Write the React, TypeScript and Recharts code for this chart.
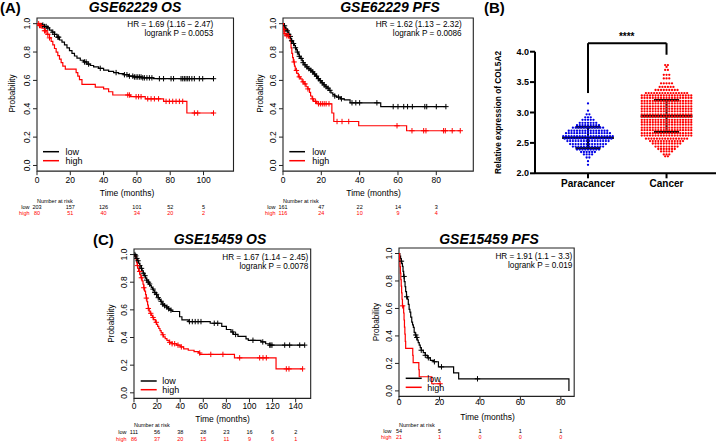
import React from 'react';
import {
  ComposedChart,
  ScatterChart,
  Line,
  Scatter,
  XAxis,
  YAxis,
  ReferenceArea,
  ReferenceLine,
} from 'recharts';

type Pt = [number, number];

const FONT = '"Liberation Sans", Arial, Helvetica, sans-serif';
const KM_BLACK = '#000000';
const KM_RED = '#ff0000';
const DOT_BLUE = '#0000e6';
const DOT_RED = '#ff0000';

// ---------------- Panel A: GSE62229 OS ----------------
const a1Low: Pt[] = [[0,1],[3,0.99],[4.5,0.98],[6,0.97],[7.5,0.955],[9,0.94],[10.5,0.925],[12,0.905],[13.5,0.885],[15,0.87],[16.5,0.85],[18,0.83],[19.5,0.81],[21,0.79],[22.5,0.772],[24,0.757],[26,0.742],[28,0.73],[30,0.715],[32,0.705],[34,0.695],[37,0.685],[40,0.672],[43,0.664],[46,0.655],[49,0.648],[52,0.64],[55,0.63],[58,0.624],[63,0.618],[70,0.612],[106,0.612]];
const a1LowCens = [3.5,4.5,5.5,6.5,9.5,10.5,12.5,13,28.5,29.5,31,38,47.5,52.5,54,55.5,57.5,58.5,59.5,60.5,61.5,62.5,63.5,64.5,66,67.5,69,73.5,76,80.5,82,86.5,87.5,88.5,89.5,90.5,91.5,93,94.5,97.5,99.5,106];
const a1High: Pt[] = [[0,1],[1.5,0.987],[3,0.968],[4.5,0.95],[6,0.925],[7.5,0.9],[8.5,0.875],[9.5,0.85],[10.5,0.825],[11.5,0.8],[12.5,0.775],[13.5,0.75],[14.5,0.725],[15.5,0.7],[17,0.68],[23.5,0.655],[24.5,0.63],[25.5,0.605],[27,0.572],[35,0.553],[40,0.54],[43,0.52],[45.5,0.497],[56,0.485],[65,0.47],[76,0.452],[90,0.37],[106,0.37]];
const a1HighCens = [1,1.5,2,2.5,4.5,5,6.5,7.5,54.5,55.5,59.5,61,62.5,66.5,68.5,70.5,73,77.5,79.5,81.5,83.5,85.5,87.5,94.5,96.5,106];
const a1Ticks = [0,20,40,60,80,100];
const a1RiskLow = [203,157,126,101,52,5];
const a1RiskHigh = [80,51,40,34,20,2];

// ---------------- Panel A: GSE62229 PFS ----------------
const a2Low: Pt[] = [[0,1],[0.5,0.985],[1,0.97],[1.5,0.96],[2,0.95],[2.5,0.94],[3,0.925],[3.5,0.91],[4,0.895],[4.5,0.88],[5,0.87],[5.5,0.86],[6,0.845],[6.5,0.83],[7,0.815],[7.5,0.8],[8,0.785],[8.5,0.77],[9,0.755],[10,0.74],[10.5,0.725],[11,0.71],[12,0.695],[13,0.683],[14,0.672],[15,0.66],[16,0.645],[17,0.63],[18,0.612],[19,0.598],[20,0.583],[21,0.568],[22,0.555],[23,0.545],[24,0.53],[25,0.512],[26,0.5],[27,0.49],[28,0.482],[30,0.47],[32,0.462],[35,0.442],[51,0.415],[85,0.415]];
const a2LowCens = [0.8,1.5,2.2,3,3.8,4.5,5.5,6.5,7.5,8.5,9.5,10.5,11.5,12.5,13.5,14.5,15.5,16.5,17.5,18.5,19.5,20.5,21.5,22.5,23.5,24.5,27,29,30.5,36,38,40,49,57.5,60,63,65,67.5,74,75,80,85];
const a2High: Pt[] = [[0,1],[0.3,0.96],[0.6,0.93],[1.5,0.915],[3,0.9],[3.8,0.875],[4.2,0.83],[4.6,0.79],[5,0.76],[5.4,0.73],[6,0.7],[6.4,0.67],[7.2,0.65],[8,0.625],[9,0.61],[10,0.59],[11,0.575],[12,0.555],[13,0.54],[13.8,0.515],[14.4,0.49],[15.2,0.47],[16,0.452],[17.5,0.44],[18.5,0.435],[25.5,0.37],[26.5,0.31],[39.5,0.28],[64.5,0.245],[92.5,0.245]];
const a2HighCens = [0.5,1,2,2.8,5.8,7,8.5,10.5,11.5,13,15.5,17,18.5,19.5,20.5,21.5,22.5,24,28.2,30.8,34.3,59.5,67.3,73.4,74.6,83.8,84.7,88.3,92.5];
const a2Ticks = [0,20,40,60,80];
const a2RiskLow = [161,47,22,14,3];
const a2RiskHigh = [116,24,10,9,4];

// ---------------- Panel C: GSE15459 OS ----------------
const c1Low: Pt[] = [[0,1],[1,0.99],[2,0.972],[3,0.955],[4,0.937],[5,0.92],[6,0.9],[7,0.882],[8,0.865],[9,0.847],[10,0.83],[11,0.815],[12,0.8],[13,0.787],[14,0.775],[15,0.762],[16,0.75],[17,0.738],[18,0.725],[19,0.712],[20,0.7],[21,0.688],[22,0.675],[23,0.662],[24,0.65],[25,0.64],[26,0.63],[28,0.62],[29.5,0.608],[31,0.598],[33,0.588],[39.5,0.55],[41.5,0.527],[47,0.515],[66,0.503],[76,0.48],[80,0.458],[84,0.44],[86,0.422],[90,0.408],[97,0.39],[99,0.38],[110,0.368],[114,0.355],[117.5,0.345],[148,0.345]];
const c1LowCens = [0.8,1.5,2.5,3.5,5,6.5,8,9.5,11,12.5,13.5,16.5,18,19.5,21,23.5,25,26.5,28.5,30,32,48,50.5,53,55.5,58,69.5,72.5,85.5,88,103,111.5,117.5,118.5,119.5,130.5,134.8,143.5,147.8];
const c1High: Pt[] = [[0,1],[1,0.988],[1.8,0.965],[2.3,0.942],[2.8,0.92],[3.3,0.9],[4,0.878],[5,0.855],[6,0.832],[7,0.81],[7.8,0.785],[8.5,0.76],[9.2,0.735],[10,0.71],[10.6,0.685],[11.2,0.66],[11.8,0.635],[12.4,0.61],[13.2,0.59],[14,0.575],[15,0.56],[16,0.545],[17,0.53],[18.5,0.51],[19.5,0.495],[20.5,0.48],[21.5,0.465],[22.5,0.45],[23.5,0.435],[24.5,0.42],[25.5,0.405],[27,0.392],[28.5,0.38],[30.5,0.365],[33,0.355],[37,0.345],[40,0.332],[43,0.318],[47,0.308],[52,0.298],[56,0.288],[57,0.278],[87,0.253],[123,0.173],[146,0.173]];
const c1HighCens = [3,4.9,6.4,8.5,10.7,12.4,14.5,16.5,19.3,25.1,30.9,33,35.2,38.1,41,56.9,66.5,77,91.5,108.8,111.7,114.6,131.9,134.2,146];
const c1Ticks = [0,20,40,60,80,100,120,140];
const c1RiskLow = [111,56,38,28,23,16,6,2];
const c1RiskHigh = [86,37,20,15,11,9,6,1];

// ---------------- Panel C: GSE15459 PFS ----------------
const c2Low: Pt[] = [[0,1],[0.4,0.981],[0.8,0.963],[1.1,0.944],[1.4,0.926],[1.7,0.907],[2,0.87],[2.3,0.833],[2.6,0.796],[3,0.759],[3.3,0.722],[3.7,0.685],[4.2,0.667],[4.6,0.63],[5,0.593],[5.4,0.574],[5.8,0.537],[6.3,0.5],[6.7,0.481],[7.1,0.463],[7.5,0.426],[8,0.407],[8.4,0.389],[9,0.37],[9.5,0.352],[10,0.333],[10.5,0.315],[11,0.296],[12,0.278],[13,0.259],[14,0.241],[15.5,0.222],[17,0.212],[19.5,0.175],[27,0.131],[29.5,0.088],[84,0]];
const c2LowCens = [1.2,2.5,3.8,8.3,8.8,11,13,14.5,17.5,21,38.8];
const c2High: Pt[] = [[0,1],[0.3,0.952],[0.5,0.905],[0.7,0.857],[0.9,0.81],[1.1,0.762],[1.3,0.714],[1.5,0.667],[1.7,0.619],[2.3,0.567],[2.5,0.516],[2.7,0.464],[2.9,0.413],[3.1,0.361],[3.3,0.31],[6.8,0.258],[7,0.206],[9.8,0.155],[10,0.103],[16.2,0.052],[20.3,0.052]];
const c2HighCens = [1.8,20.3];
const c2Ticks = [0,20,40,60,80];
const c2RiskLow = [54,5,1,1,1];
const c2RiskHigh = [21,1,0,0,0];

const probTicks = [0,0.2,0.4,0.6,0.8,1.0];

// ---------------- Panel B: COL5A2 expression ----------------
const bCategories = ['Paracancer','Cancer'];
const paraLevels = [3.15,3.03,2.97,2.92,2.88,2.83,2.79,2.75,2.70,2.66,2.61,2.57,2.53,2.48,2.44,2.39,2.35,2.31,2.26,2.20,2.14];
const paraCounts = [1,1,2,3,5,7,9,12,15,17,19,18,16,14,12,9,6,4,2,1,1];
const cancerLevels = [3.78,3.75,3.70,3.62,3.56,3.48,3.42,3.37,3.32,3.28,3.24,3.19,3.15,3.10,3.06,3.02,2.97,2.93,2.88,2.84,2.80,2.75,2.71,2.66,2.62,2.57,2.53,2.49,2.44,2.40,2.36,2.31,2.28];
const cancerCounts = [2,1,2,3,3,5,6,9,16,19,19,19,19,19,19,19,19,19,19,19,19,19,19,19,19,16,13,11,9,7,5,3,2];
const bMeans = [2.585,2.94];
const bSDs = [0.173,0.262];
const bTicks = [2.0,2.5,3.0,3.5,4.0];
const bBracket = { top: 4.14, leftFoot: 3.32, rightFoot: 3.95 };

// ---------------- texts ----------------
const titles = ['GSE62229 OS','GSE62229 PFS','GSE15459 OS','GSE15459 PFS'];
const hrLines = [
  ['HR = 1.69 (1.16 \u2212 2.47)','logrank P = 0.0053'],
  ['HR = 1.62 (1.13 \u2212 2.32)','logrank P = 0.0086'],
  ['HR = 1.67 (1.14 \u2212 2.45)','logrank P = 0.0078'],
  ['HR = 1.91 (1.1 \u2212 3.3)','logrank P = 0.019'],
];

// ---------------- helpers ----------------
const survAt = (steps: Pt[], t: number) => {
  let s = 1;
  for (const [ti, si] of steps) if (ti <= t) s = si;
  return s;
};
const toLine = (steps: Pt[]) => steps.map(([t, s]) => ({ t, s }));
const toCens = (steps: Pt[], times: number[]) => times.map((t) => ({ t, s: survAt(steps, t) }));

const plusShape = (color: string) => (props: any) => {
  const { cx, cy } = props;
  if (cx == null || cy == null) return <g />;
  return (
    <path
      d={`M${cx - 2.7},${cy}H${cx + 2.7}M${cx},${cy - 2.7}V${cy + 2.7}`}
      stroke={color}
      strokeWidth={1}
      fill="none"
    />
  );
};

type KMLayout = {
  x0: number; xR: number; y1: number; y0: number; xMax: number;
  tickBase: number; narBase: number; lowBase: number; highBase: number;
};
type KMData = {
  low: Pt[]; lowCens: number[]; high: Pt[]; highCens: number[];
  ticks: number[]; riskLow: number[]; riskHigh: number[];
};

const ML = 40, MT = 6, MR = 6, XH = 52;

function KMChart({ lay, d }: { lay: KMLayout; d: KMData }) {
  const span = lay.y0 - lay.y1;
  const plotTop = lay.y1 - 0.04 * span;
  const plotH = span * 1.08;
  const plotW = lay.xR - lay.x0;
  const top = plotTop - MT;
  const left = lay.x0 - ML;
  const W = ML + plotW + MR;
  const H = MT + plotH + XH;
  const rel = (v: number) => v - top;

  const xTick = (p: any) => {
    const v = p.payload.value;
    const i = d.ticks.indexOf(v);
    const x = p.x;
    return (
      <g fontFamily={FONT}>
        <text x={x} y={rel(lay.tickBase)} textAnchor="middle" fontSize={8.5} fill="#000">{v}</text>
        {i >= 0 && (
          <text x={x} y={rel(lay.lowBase)} textAnchor="middle" fontSize={5.5} fill="#000">{d.riskLow[i]}</text>
        )}
        {i >= 0 && (
          <text x={x} y={rel(lay.highBase)} textAnchor="middle" fontSize={5.5} fill={KM_RED}>{d.riskHigh[i]}</text>
        )}
        {i === 0 && (
          <g>
            <text x={x} y={rel(lay.narBase)} textAnchor="start" fontSize={5.5} fill="#000">Number at risk</text>
            <text x={x - 7.5} y={rel(lay.lowBase)} textAnchor="end" fontSize={5.5} fill="#000">low</text>
            <text x={x - 7.5} y={rel(lay.highBase)} textAnchor="end" fontSize={5.5} fill={KM_RED}>high</text>
          </g>
        )}
      </g>
    );
  };

  const yTick = (p: any) => {
    const bx = ML - 6.6;
    return (
      <text
        x={bx}
        y={p.y}
        transform={`rotate(-90 ${bx} ${p.y})`}
        textAnchor="middle"
        fontSize={8.5}
        fill="#000"
        fontFamily={FONT}
      >
        {Number(p.payload.value).toFixed(1)}
      </text>
    );
  };

  return (
    <div style={{ position: 'absolute', left, top, width: W, height: H }}>
      <ComposedChart width={W} height={H} margin={{ top: MT, right: MR, left: 0, bottom: 0 }}>
        <XAxis
          type="number"
          dataKey="t"
          domain={[0, lay.xMax]}
          allowDataOverflow
          ticks={d.ticks}
          interval={0}
          height={XH}
          tickSize={4}
          tickLine={{ stroke: '#222' }}
          axisLine={false}
          tick={xTick}
        />
        <YAxis
          type="number"
          dataKey="s"
          domain={[-0.04, 1.04]}
          allowDataOverflow
          ticks={probTicks}
          interval={0}
          width={ML}
          tickSize={4}
          tickLine={{ stroke: '#222' }}
          axisLine={false}
          tick={yTick}
        />
        <ReferenceArea x1={0} x2={lay.xMax} y1={-0.04} y2={1.04} fill="none" fillOpacity={0} stroke="#222" strokeWidth={1.1} />
        <Line data={toLine(d.low)} dataKey="s" type="stepAfter" stroke={KM_BLACK} strokeWidth={1.2} dot={false} activeDot={false} isAnimationActive={false} />
        <Line data={toLine(d.high)} dataKey="s" type="stepAfter" stroke={KM_RED} strokeWidth={1.2} dot={false} activeDot={false} isAnimationActive={false} />
        <Scatter data={toCens(d.low, d.lowCens)} dataKey="s" shape={plusShape(KM_BLACK)} isAnimationActive={false} />
        <Scatter data={toCens(d.high, d.highCens)} dataKey="s" shape={plusShape(KM_RED)} isAnimationActive={false} />
      </ComposedChart>
    </div>
  );
}

const layA1: KMLayout = { x0: 36.5, xR: 233, y1: 23.2, y0: 165, xMax: 118, tickBase: 182.5, narBase: 202.7, lowBase: 208.5, highBase: 215 };
const layA2: KMLayout = { x0: 282.7, xR: 473, y1: 23.2, y0: 165, xMax: 99.3, tickBase: 182.5, narBase: 202.7, lowBase: 208.5, highBase: 215 };
const layC1: KMLayout = { x0: 134.3, xR: 311, y1: 255, y0: 393.3, xMax: 153, tickBase: 409, narBase: 427.5, lowBase: 434.5, highBase: 441.5 };
const layC2: KMLayout = { x0: 399.3, xR: 574.5, y1: 253.3, y0: 390.7, xMax: 86.6, tickBase: 404.5, narBase: 426.5, lowBase: 432.7, highBase: 439.3 };

const dA1: KMData = { low: a1Low, lowCens: a1LowCens, high: a1High, highCens: a1HighCens, ticks: a1Ticks, riskLow: a1RiskLow, riskHigh: a1RiskHigh };
const dA2: KMData = { low: a2Low, lowCens: a2LowCens, high: a2High, highCens: a2HighCens, ticks: a2Ticks, riskLow: a2RiskLow, riskHigh: a2RiskHigh };
const dC1: KMData = { low: c1Low, lowCens: c1LowCens, high: c1High, highCens: c1HighCens, ticks: c1Ticks, riskLow: c1RiskLow, riskHigh: c1RiskHigh };
const dC2: KMData = { low: c2Low, lowCens: c2LowCens, high: c2High, highCens: c2HighCens, ticks: c2Ticks, riskLow: c2RiskLow, riskHigh: c2RiskHigh };

// ---------------- Panel B chart ----------------
const B_SPACING = 0.035;
const swarm = (levels: number[], counts: number[], center: number) =>
  levels.flatMap((v, li) =>
    Array.from({ length: counts[li] }, (_, k) => ({ x: center + (k - (counts[li] - 1) / 2) * B_SPACING, y: v }))
  );

const dotShape = (color: string) => (props: any) => {
  const { cx, cy } = props;
  if (cx == null || cy == null) return <g />;
  return <circle cx={cx} cy={cy} r={1.15} fill={color} />;
};

function PanelB() {
  const left = 490, top = 20, W = 230, H = 190;
  const mt = 51.7 - top;
  const yAxisW = 45;
  const plotH = 173.3 - 51.7;
  const xh = H - mt - plotH;
  const paraPts = swarm(paraLevels, paraCounts, 1);
  const cancerPts = swarm(cancerLevels, cancerCounts, 2);
  const segs: any[] = [];
  bMeans.forEach((m, i) => {
    const cx = i + 1;
    const sd = bSDs[i];
    segs.push({ a: { x: cx - 0.33, y: m }, b: { x: cx + 0.33, y: m }, w: 2.6 });
    segs.push({ a: { x: cx - 0.16, y: m + sd }, b: { x: cx + 0.16, y: m + sd }, w: 2.4 });
    segs.push({ a: { x: cx - 0.16, y: m - sd }, b: { x: cx + 0.16, y: m - sd }, w: 2.4 });
    segs.push({ a: { x: cx, y: m - sd }, b: { x: cx, y: m + sd }, w: 2 });
  });
  const brk = [
    { a: { x: 1, y: bBracket.leftFoot }, b: { x: 1, y: bBracket.top } },
    { a: { x: 1, y: bBracket.top }, b: { x: 2, y: bBracket.top } },
    { a: { x: 2, y: bBracket.top }, b: { x: 2, y: bBracket.rightFoot } },
  ];
  return (
    <div style={{ position: 'absolute', left, top, width: W, height: H }}>
      <ScatterChart width={W} height={H} margin={{ top: mt, right: 4, left: 0, bottom: 0 }}>
        <XAxis
          type="number"
          dataKey="x"
          domain={[0.325, 2.63]}
          allowDataOverflow
          ticks={[1, 2]}
          interval={0}
          tickFormatter={(v: number) => bCategories[Math.round(v) - 1] ?? ''}
          height={xh}
          tickSize={5}
          tickMargin={2}
          axisLine={{ stroke: '#000', strokeWidth: 2 }}
          tickLine={{ stroke: '#000', strokeWidth: 2 }}
          tick={{ fontSize: 10, fontWeight: 700, fill: '#000', fontFamily: FONT }}
        />
        <YAxis
          type="number"
          dataKey="y"
          domain={[2, 4]}
          allowDataOverflow
          ticks={bTicks}
          interval={0}
          tickFormatter={(v: number) => v.toFixed(1)}
          width={yAxisW}
          tickSize={5}
          tickMargin={1}
          axisLine={{ stroke: '#000', strokeWidth: 2 }}
          tickLine={{ stroke: '#000', strokeWidth: 2 }}
          tick={{ fontSize: 9, fontWeight: 700, fill: '#000', fontFamily: FONT }}
        />
        <Scatter data={paraPts} shape={dotShape(DOT_BLUE)} isAnimationActive={false} />
        <Scatter data={cancerPts} shape={dotShape(DOT_RED)} isAnimationActive={false} />
        {segs.map((s, i) => (
          <ReferenceLine key={'e' + i} segment={[s.a, s.b]} stroke="#111" strokeWidth={s.w} ifOverflow="visible" />
        ))}
        {brk.map((s, i) => (
          <ReferenceLine key={'b' + i} segment={[s.a, s.b]} stroke="#000" strokeWidth={2} ifOverflow="visible" />
        ))}
      </ScatterChart>
    </div>
  );
}

// ---------------- text overlay ----------------
function Overlay() {
  const t = { fontFamily: FONT, fill: '#000' } as any;
  const legend = (x1: number, x2: number, yLow: number, yHigh: number, tx: number) => (
    <g>
      <line x1={x1} x2={x2} y1={yLow} y2={yLow} stroke={KM_BLACK} strokeWidth={1.5} />
      <line x1={x1} x2={x2} y1={yHigh} y2={yHigh} stroke={KM_RED} strokeWidth={1.5} />
      <text x={tx} y={yLow + 3.2} fontSize={9} {...t}>low</text>
      <text x={tx} y={yHigh + 3.2} fontSize={9} {...t}>high</text>
    </g>
  );
  const hr = (i: number, right: number, b1: number, b2: number) => (
    <g>
      <text x={right} y={b1} fontSize={8.2} textAnchor="end" {...t}>{hrLines[i][0]}</text>
      <text x={right} y={b2} fontSize={8.2} textAnchor="end" {...t}>{hrLines[i][1]}</text>
    </g>
  );
  const prob = (bx: number, cy: number) => (
    <text x={bx} y={cy} transform={`rotate(-90 ${bx} ${cy})`} textAnchor="middle" fontSize={8.2} {...t}>Probability</text>
  );
  const time = (cx: number, by: number) => (
    <text x={cx} y={by} textAnchor="middle" fontSize={8.5} {...t}>Time (months)</text>
  );
  const title = (i: number, cx: number, by: number) => (
    <text x={cx} y={by} textAnchor="middle" fontSize={14} fontWeight={700} fontStyle="italic" {...t}>{titles[i]}</text>
  );
  return (
    <svg width={720} height={443} style={{ position: 'absolute', left: 0, top: 0, pointerEvents: 'none' }}>
      <text x={0} y={12.5} fontSize={15} fontWeight={700} {...t}>(A)</text>
      <text x={484} y={12.5} fontSize={15} fontWeight={700} {...t}>(B)</text>
      <text x={93} y={244.5} fontSize={15} fontWeight={700} {...t}>(C)</text>
      {title(0, 135, 12)}
      {title(1, 390, 12)}
      {title(2, 220, 244)}
      {title(3, 489, 244)}
      {hr(0, 213.3, 27.3, 36.3)}
      {hr(1, 461.7, 27.3, 36.3)}
      {hr(2, 308.3, 260, 269)}
      {hr(3, 572.3, 258.5, 267.8)}
      {prob(15, 93.5)}
      {prob(263, 93.5)}
      {prob(113.5, 323.5)}
      {prob(379, 322)}
      {time(127, 196)}
      {time(373.5, 196)}
      {time(222.5, 422)}
      {time(487.5, 419.5)}
      {legend(43, 59, 151.7, 160.7, 65.5)}
      {legend(289.3, 305, 151.7, 160.7, 312.3)}
      {legend(140.7, 156.7, 381, 389.7, 162.3)}
      {legend(405.7, 421.7, 378.3, 387.3, 427.3)}
      <text x={500.5} y={112.5} transform="rotate(-90 500.5 112.5)" textAnchor="middle" fontSize={8.3} fontWeight={700} {...t}>
        Relative expression of COL5A2
      </text>
      <text x={626.7} y={40} textAnchor="middle" fontSize={10} fontWeight={700} {...t}>****</text>
    </svg>
  );
}

export default function App() {
  return (
    <div
      style={{
        position: 'absolute',
        left: 0,
        top: 0,
        width: 720,
        height: 443,
        overflow: 'hidden',
        background: '#ffffff',
        fontFamily: FONT,
      }}
    >
      <KMChart lay={layA1} d={dA1} />
      <KMChart lay={layA2} d={dA2} />
      <KMChart lay={layC1} d={dC1} />
      <KMChart lay={layC2} d={dC2} />
      <PanelB />
      <Overlay />
    </div>
  );
}
